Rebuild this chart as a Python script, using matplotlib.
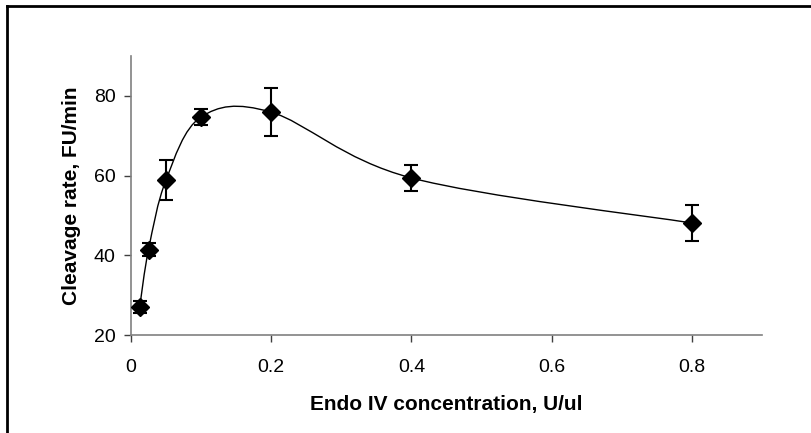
import matplotlib.pyplot as plt
from matplotlib.path import Path
from matplotlib.patches import PathPatch
import numpy as np

plt.rcParams['font.family'] = ['Liberation Sans', 'DejaVu Sans']

# Endo IV concentration (U/ul) and cleavage rate (FU/min)
concentration = [0.0125, 0.025, 0.05, 0.1, 0.2, 0.4, 0.8]
cleavage_rate = [27.1, 41.4, 58.9, 74.7, 75.9, 59.4, 48.1]
rate_error = [1.5, 1.7, 5.1, 2.0, 6.0, 3.3, 4.4]

x_ticks = [0, 0.2, 0.4, 0.6, 0.8]
x_tick_labels = ["0", "0.2", "0.4", "0.6", "0.8"]
y_ticks = [20, 40, 60, 80]

fig = plt.figure(figsize=(8.11, 4.33), dpi=100)
ax = fig.add_axes([0.1615, 0.2263, 0.7781, 0.6444])

# smooth line like the spreadsheet chart (Catmull-Rom as cubic Bezier)
pts = np.column_stack([concentration, cleavage_rate])
n = len(pts)
verts = [pts[0]]
codes = [Path.MOVETO]
for i in range(n - 1):
    p0 = pts[i - 1] if i > 0 else pts[i]
    p1 = pts[i]
    p2 = pts[i + 1]
    p3 = pts[i + 2] if i + 2 < n else pts[i + 1]
    c1 = p1 + (p2 - p0) / 6
    c2 = p2 - (p3 - p1) / 6
    verts += [c1, c2, p2]
    codes += [Path.CURVE4] * 3
ax.add_patch(PathPatch(Path(verts, codes), facecolor="none", edgecolor="black", lw=1.0, zorder=2))

ax.errorbar(concentration, cleavage_rate, yerr=rate_error, fmt="D", color="black",
            markersize=9.5, ecolor="black", elinewidth=1.5, capsize=5, capthick=1.5, zorder=3)

ax.set_xlim(0, 0.9)
ax.set_ylim(20, 90)
ax.set_xticks(x_ticks)
ax.set_xticklabels(x_tick_labels)
ax.set_yticks(y_ticks)

for side in ["top", "right"]:
    ax.spines[side].set_visible(False)
for side in ["left", "bottom"]:
    ax.spines[side].set_color("#808080")
    ax.spines[side].set_linewidth(1.2)
ax.tick_params(direction="out", length=5, width=1, color="#404040", labelsize=14)
ax.tick_params(axis="y", pad=6)
ax.tick_params(axis="x", pad=12)

ax.set_xlabel("Endo IV concentration, U/ul", fontsize=15, fontweight="bold", labelpad=14)
ax.set_ylabel("Cleavage rate, FU/min", fontsize=15, fontweight="bold", labelpad=9)

# outer frame lines (left and top)
fig.add_artist(plt.Line2D([7 / 811, 7 / 811], [0, 1 - 6 / 433], color="black", lw=2, transform=fig.transFigure))
fig.add_artist(plt.Line2D([7 / 811, 1], [1 - 6 / 433, 1 - 6 / 433], color="black", lw=2, transform=fig.transFigure))

fig.savefig("out.png", dpi=100)
